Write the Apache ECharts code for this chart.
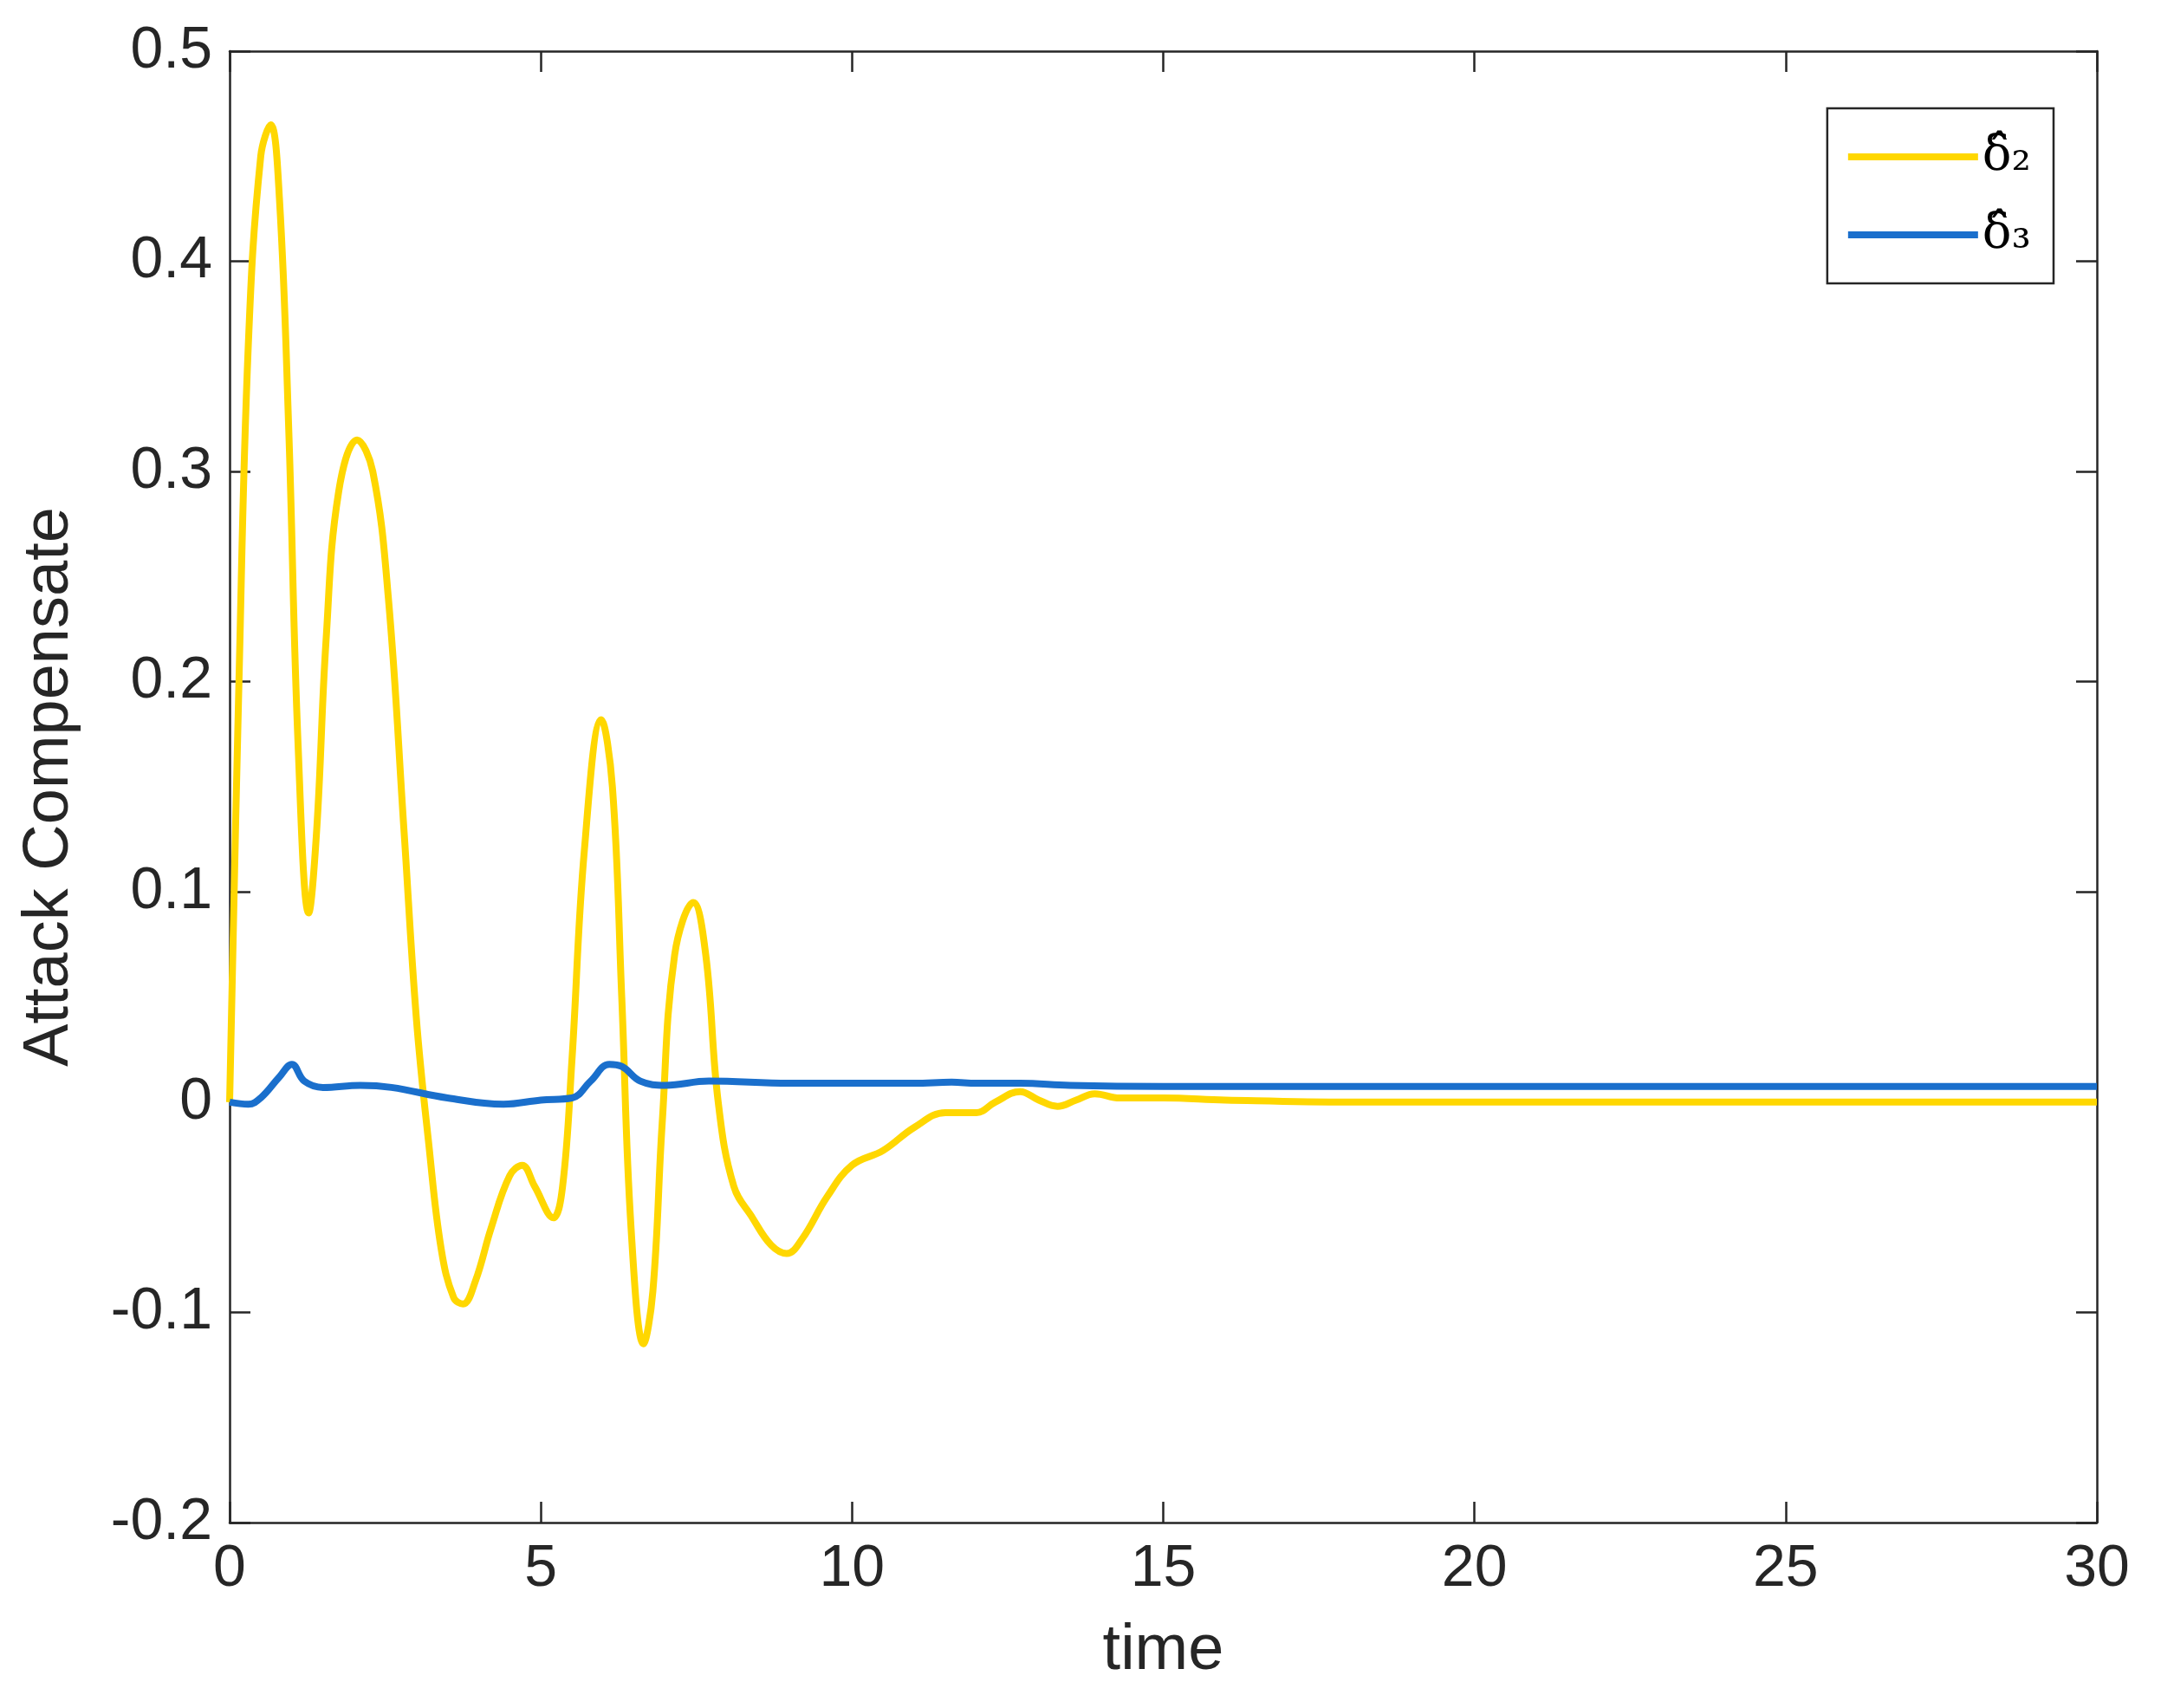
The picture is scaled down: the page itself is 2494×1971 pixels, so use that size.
<!DOCTYPE html>
<html>
<head>
<meta charset="utf-8">
<title>Attack Compensate</title>
<script src="https://cdn.jsdelivr.net/npm/echarts@6/dist/echarts.min.js"></script>
<style>html,body{margin:0;padding:0;background:#fff}#main{width:2494px;height:1971px}</style>
</head>
<body>
<div id="main"></div>
<script>
var xTicks = [0, 5, 10, 15, 20, 25, 30];
var yTicks = [-0.2, -0.1, 0, 0.1, 0.2, 0.3, 0.4, 0.5];
var delta2 = [[0,0],[0.15,0.2],[0.3,0.36],[0.5,0.45],[0.66,0.465],[0.8,0.43],[0.95,0.32],[1.1,0.17],[1.27,0.09],[1.4,0.13],[1.55,0.22],[1.75,0.29],[2.05,0.315],[2.3,0.3],[2.55,0.24],[2.8,0.13],[3.0,0.04],[3.2,-0.02],[3.4,-0.07],[3.6,-0.093],[3.75,-0.096],[3.95,-0.085],[4.2,-0.06],[4.5,-0.035],[4.7,-0.03],[4.9,-0.04],[5.2,-0.055],[5.35,-0.04],[5.5,0.02],[5.7,0.12],[5.97,0.182],[6.15,0.15],[6.3,0.05],[6.45,-0.06],[6.65,-0.115],[6.8,-0.09],[6.95,-0.01],[7.15,0.07],[7.45,0.095],[7.65,0.07],[7.85,0.0],[8.1,-0.04],[8.4,-0.055],[8.7,-0.068],[8.95,-0.072],[9.2,-0.065],[9.6,-0.045],[10,-0.03],[10.5,-0.023],[11,-0.012],[11.5,-0.005],[12,-0.005],[12.3,0.0],[12.7,0.005],[13.0,0.001],[13.3,-0.002],[13.6,0.001],[13.9,0.004],[14.3,0.002],[15,0.002],[16,0.001],[18,0],[30,0]];
var delta3 = [[0,0],[0.3,-0.001],[0.5,0.002],[0.8,0.012],[1.0,0.018],[1.2,0.01],[1.5,0.007],[2.1,0.008],[2.6,0.007],[3.5,0.002],[4.4,-0.001],[5,0.001],[5.5,0.002],[5.8,0.01],[6.1,0.018],[6.3,0.017],[6.6,0.01],[7.0,0.008],[7.7,0.01],[9,0.009],[11,0.009],[11.6,0.0095],[12,0.009],[12.7,0.009],[13.5,0.008],[15,0.0075],[30,0.0075]];

var chart = echarts.init(document.getElementById('main'));
var font = 'Liberation Sans, Arial, sans-serif';
function axisBase(show) {
  return {
    axisLine: { show: true, onZero: false, lineStyle: { color: '#262626', width: 2.5 } },
    axisTick: { show: true, inside: true, length: 24, lineStyle: { color: '#262626', width: 2.5 } },
    splitLine: { show: false },
    axisLabel: { show: show, color: '#262626', fontSize: 68, fontFamily: font, margin: 20 }
  };
}
var xa = Object.assign(axisBase(true), { type: 'value', min: 0, max: 30, interval: 5, name: 'time',
  nameLocation: 'middle', nameGap: 112, nameTextStyle: { fontSize: 74, fontFamily: font, color: '#262626' } });
var xb = Object.assign(axisBase(false), { type: 'value', min: 0, max: 30, interval: 5, position: 'top' });
var ya = Object.assign(axisBase(true), { type: 'value', min: -0.2, max: 0.5, interval: 0.1, name: 'Attack Compensate',
  nameLocation: 'middle', nameGap: 170, nameTextStyle: { fontSize: 74, fontFamily: font, color: '#262626' } });
ya.axisLabel.formatter = function (v) { return String(Math.round(v * 10) / 10); };
var yb = Object.assign(axisBase(false), { type: 'value', min: -0.2, max: 0.5, interval: 0.1, position: 'right' });

chart.setOption({
  animation: false,
  backgroundColor: '#fff',
  grid: { left: 265, right: 74, top: 59, bottom: 214 },
  legend: {
    right: 124, top: 125, orient: 'vertical',
    itemWidth: 150, itemHeight: 8, itemGap: 34,
    padding: [28, 26, 28, 24],
    borderColor: '#262626', borderWidth: 2.5, backgroundColor: '#fff',
    icon: 'rect',
    textStyle: { fontSize: 56, fontFamily: 'DejaVu Serif, serif', color: '#000' },
    data: ['δ̂₂', 'δ̂₃']
  },
  xAxis: [xa, xb],
  yAxis: [ya, yb],
  series: [
    { name: 'δ̂₂', type: 'line', data: delta2, smooth: 0.4, showSymbol: false,
      lineStyle: { color: '#FFD700', width: 8 }, itemStyle: { color: '#FFD700' } },
    { name: 'δ̂₃', type: 'line', data: delta3, smooth: 0.4, showSymbol: false,
      lineStyle: { color: '#1A6FCC', width: 8 }, itemStyle: { color: '#1A6FCC' } }
  ]
});
</script>
</body>
</html>
